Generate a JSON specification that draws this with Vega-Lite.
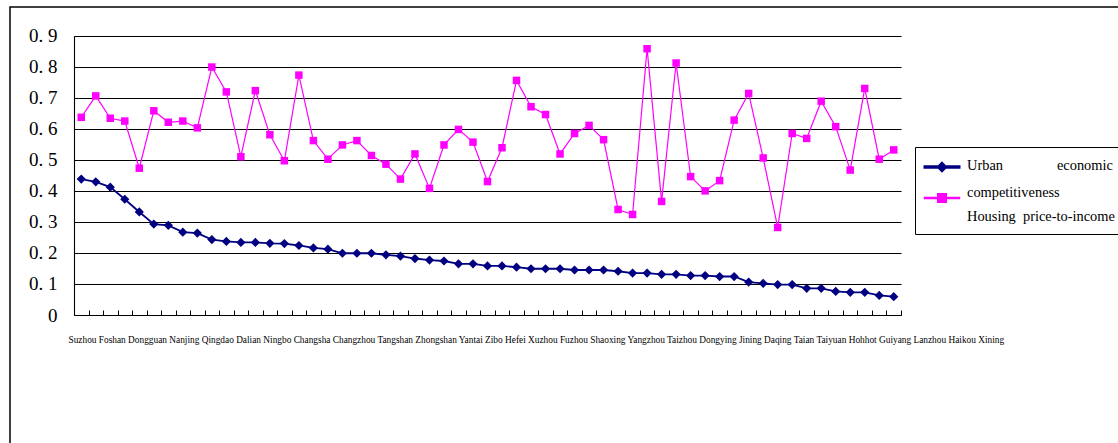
{
  "$schema": "https://vega.github.io/schema/vega-lite/v6.json",
  "width": 1112,
  "height": 440,
  "autosize": {"type": "none"},
  "padding": {"left": 10, "top": 7, "right": -4, "bottom": -4},
  "background": "white",
  "config": {
    "view": {"stroke": "black", "strokeWidth": 1.5},
    "font": "Liberation Serif"
  },
  "data": {
    "values": [
      {"rank": 1, "Urban economic competitiveness": 0.438, "Housing price-to-income": 0.637},
      {"rank": 2, "Urban economic competitiveness": 0.429, "Housing price-to-income": 0.706},
      {"rank": 3, "Urban economic competitiveness": 0.412, "Housing price-to-income": 0.634},
      {"rank": 4, "Urban economic competitiveness": 0.373, "Housing price-to-income": 0.625},
      {"rank": 5, "Urban economic competitiveness": 0.332, "Housing price-to-income": 0.473},
      {"rank": 6, "Urban economic competitiveness": 0.293, "Housing price-to-income": 0.658},
      {"rank": 7, "Urban economic competitiveness": 0.289, "Housing price-to-income": 0.621},
      {"rank": 8, "Urban economic competitiveness": 0.267, "Housing price-to-income": 0.625},
      {"rank": 9, "Urban economic competitiveness": 0.264, "Housing price-to-income": 0.603},
      {"rank": 10, "Urban economic competitiveness": 0.243, "Housing price-to-income": 0.799},
      {"rank": 11, "Urban economic competitiveness": 0.237, "Housing price-to-income": 0.719},
      {"rank": 12, "Urban economic competitiveness": 0.234, "Housing price-to-income": 0.510},
      {"rank": 13, "Urban economic competitiveness": 0.234, "Housing price-to-income": 0.723},
      {"rank": 14, "Urban economic competitiveness": 0.231, "Housing price-to-income": 0.581},
      {"rank": 15, "Urban economic competitiveness": 0.230, "Housing price-to-income": 0.497},
      {"rank": 16, "Urban economic competitiveness": 0.224, "Housing price-to-income": 0.773},
      {"rank": 17, "Urban economic competitiveness": 0.216, "Housing price-to-income": 0.562},
      {"rank": 18, "Urban economic competitiveness": 0.212, "Housing price-to-income": 0.502},
      {"rank": 19, "Urban economic competitiveness": 0.199, "Housing price-to-income": 0.548},
      {"rank": 20, "Urban economic competitiveness": 0.199, "Housing price-to-income": 0.562},
      {"rank": 21, "Urban economic competitiveness": 0.199, "Housing price-to-income": 0.514},
      {"rank": 22, "Urban economic competitiveness": 0.194, "Housing price-to-income": 0.486},
      {"rank": 23, "Urban economic competitiveness": 0.190, "Housing price-to-income": 0.438},
      {"rank": 24, "Urban economic competitiveness": 0.182, "Housing price-to-income": 0.519},
      {"rank": 25, "Urban economic competitiveness": 0.177, "Housing price-to-income": 0.408},
      {"rank": 26, "Urban economic competitiveness": 0.174, "Housing price-to-income": 0.548},
      {"rank": 27, "Urban economic competitiveness": 0.165, "Housing price-to-income": 0.598},
      {"rank": 28, "Urban economic competitiveness": 0.165, "Housing price-to-income": 0.557},
      {"rank": 29, "Urban economic competitiveness": 0.158, "Housing price-to-income": 0.430},
      {"rank": 30, "Urban economic competitiveness": 0.158, "Housing price-to-income": 0.539},
      {"rank": 31, "Urban economic competitiveness": 0.154, "Housing price-to-income": 0.756},
      {"rank": 32, "Urban economic competitiveness": 0.149, "Housing price-to-income": 0.671},
      {"rank": 33, "Urban economic competitiveness": 0.149, "Housing price-to-income": 0.646},
      {"rank": 34, "Urban economic competitiveness": 0.149, "Housing price-to-income": 0.519},
      {"rank": 35, "Urban economic competitiveness": 0.145, "Housing price-to-income": 0.585},
      {"rank": 36, "Urban economic competitiveness": 0.145, "Housing price-to-income": 0.611},
      {"rank": 37, "Urban economic competitiveness": 0.145, "Housing price-to-income": 0.565},
      {"rank": 38, "Urban economic competitiveness": 0.141, "Housing price-to-income": 0.340},
      {"rank": 39, "Urban economic competitiveness": 0.135, "Housing price-to-income": 0.324},
      {"rank": 40, "Urban economic competitiveness": 0.135, "Housing price-to-income": 0.858},
      {"rank": 41, "Urban economic competitiveness": 0.131, "Housing price-to-income": 0.366},
      {"rank": 42, "Urban economic competitiveness": 0.131, "Housing price-to-income": 0.812},
      {"rank": 43, "Urban economic competitiveness": 0.127, "Housing price-to-income": 0.446},
      {"rank": 44, "Urban economic competitiveness": 0.127, "Housing price-to-income": 0.400},
      {"rank": 45, "Urban economic competitiveness": 0.124, "Housing price-to-income": 0.433},
      {"rank": 46, "Urban economic competitiveness": 0.124, "Housing price-to-income": 0.628},
      {"rank": 47, "Urban economic competitiveness": 0.106, "Housing price-to-income": 0.714},
      {"rank": 48, "Urban economic competitiveness": 0.102, "Housing price-to-income": 0.506},
      {"rank": 49, "Urban economic competitiveness": 0.098, "Housing price-to-income": 0.282},
      {"rank": 50, "Urban economic competitiveness": 0.098, "Housing price-to-income": 0.585},
      {"rank": 51, "Urban economic competitiveness": 0.086, "Housing price-to-income": 0.569},
      {"rank": 52, "Urban economic competitiveness": 0.086, "Housing price-to-income": 0.689},
      {"rank": 53, "Urban economic competitiveness": 0.076, "Housing price-to-income": 0.607},
      {"rank": 54, "Urban economic competitiveness": 0.073, "Housing price-to-income": 0.467},
      {"rank": 55, "Urban economic competitiveness": 0.073, "Housing price-to-income": 0.730},
      {"rank": 56, "Urban economic competitiveness": 0.063, "Housing price-to-income": 0.502},
      {"rank": 57, "Urban economic competitiveness": 0.059, "Housing price-to-income": 0.532}
    ]
  },
  "transform": [
    {"fold": ["Urban economic competitiveness", "Housing price-to-income"], "as": ["series", "value"]}
  ],
  "encoding": {
    "x": {
      "field": "rank",
      "type": "ordinal",
      "bandPosition": 0.5,
      "scale": {"type": "band", "paddingInner": 0, "paddingOuter": 0, "range": [64, 891]},
      "axis": {
        "offset": -132,
        "labels": false,
        "grid": false,
        "tickBand": "extent",
        "tickSize": -5,
        "tickColor": "black",
        "tickWidth": 1,
        "domainColor": "black",
        "domainWidth": 1,
        "title": "Suzhou Foshan Dongguan Nanjing Qingdao Dalian Ningbo Changsha Changzhou Tangshan Zhongshan Yantai Zibo Hefei Xuzhou Fuzhou Shaoxing Yangzhou Taizhou Dongying Jining Daqing Taian Taiyuan Hohhot Guiyang Lanzhou Haikou Xining",
        "titleFont": "Liberation Serif",
        "titleFontSize": 9.33,
        "titleFontWeight": "normal",
        "titleColor": "black",
        "titleAnchor": "start",
        "titleAlign": "left",
        "titleBaseline": "alphabetic",
        "titleX": 58,
        "titleY": 27
      }
    },
    "y": {
      "field": "value",
      "type": "quantitative",
      "scale": {"domain": [0, 0.9], "nice": false, "zero": true, "range": [308, 28.7]},
      "axis": {
        "offset": -64,
        "values": [0, 0.1, 0.2, 0.3, 0.4, 0.5, 0.6, 0.7, 0.8, 0.9],
        "grid": true,
        "gridColor": "black",
        "gridWidth": 1.1,
        "gridOpacity": 1,
        "ticks": false,
        "domainColor": "black",
        "domainWidth": 1.1,
        "labelFont": "Liberation Serif",
        "labelFontSize": 19,
        "labelColor": "black",
        "labelPadding": 17,
        "labelFlush": false,
        "labelOverlap": false,
        "labelExpr": "datum.value === 0 ? '0' : replace(format(datum.value, '.1f'), '.', '.\u00a0')",
        "title": null
      }
    },
    "color": {
      "field": "series",
      "type": "nominal",
      "scale": {
        "domain": ["Urban economic competitiveness", "Housing price-to-income"],
        "range": ["#000080", "#FF00FF"]
      },
      "legend": {
        "orient": "none",
        "legendX": 905,
        "legendY": 140,
        "title": null,
        "padding": 11,
        "symbolOffset": 7,
        "strokeColor": "black",
        "fillColor": "white",
        "symbolSize": 256,
        "symbolStrokeWidth": 0,
        "rowPadding": 10,
        "labelFont": "Liberation Serif",
        "labelFontSize": 14.4,
        "labelColor": "black",
        "labelOffset": 16,
        "labelLimit": 0,
        "labelExpr": "datum.value === 'Urban economic competitiveness' ? 'Urban\u00a0\u00a0\u00a0\u00a0\u00a0\u00a0\u00a0\u00a0\u00a0\u00a0\u00a0\u00a0\u00a0\u00a0\u00a0economic' : ['competitiveness', 'Housing\u00a0\u00a0price-to-income\u00a0\u00a0\u00a0']",
        "encode": {
          "labels": {
            "update": {
              "lineHeight": {"value": 23.5},
              "dy": {"signal": "datum.value === 'Urban economic competitiveness' ? -1 : -5"}
            }
          },
          "symbols": {
            "update": {
              "shape": {"signal": "datum.value === 'Urban economic competitiveness' ? 'M-2.2,-0.11H2.2V0.11H-2.2Z M0,-0.55L0.55,0L0,0.55L-0.55,0Z' : 'M-2.2,-0.08H2.2V0.08H-2.2Z M-0.55,-0.55H0.55V0.55H-0.55Z'"},
              "fill": {"scale": "color", "field": "value"},
              "fillOpacity": {"value": 1},
              "opacity": {"value": 1}
            }
          }
        }
      }
    }
  },
  "layer": [
    {
      "mark": {"type": "line"},
      "encoding": {
        "strokeWidth": {
          "field": "series",
          "type": "nominal",
          "scale": {"domain": ["Urban economic competitiveness", "Housing price-to-income"], "range": [1.8, 1.2]},
          "legend": null
        }
      }
    },
    {
      "transform": [{"filter": "datum.series === 'Urban economic competitiveness'"}],
      "mark": {"type": "point", "filled": true, "opacity": 1, "shape": "diamond", "size": 85}
    },
    {
      "transform": [{"filter": "datum.series === 'Housing price-to-income'"}],
      "mark": {"type": "point", "filled": true, "opacity": 1, "shape": "square", "size": 56}
    }
  ]
}
